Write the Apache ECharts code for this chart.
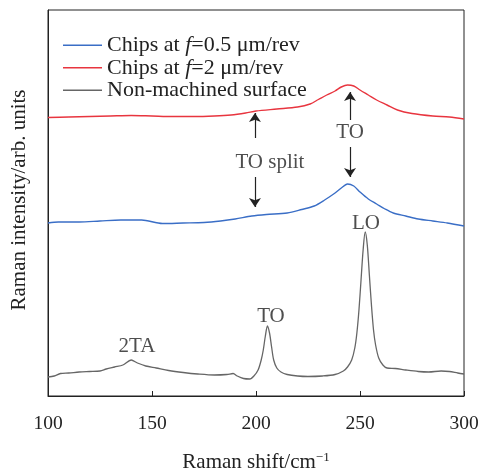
<!DOCTYPE html>
<html>
<head>
<meta charset="utf-8">
<script src="https://cdn.jsdelivr.net/npm/echarts@6/dist/echarts.min.js"></script>
<style>
  html, body { margin: 0; padding: 0; background: #fff; }
  #chart { width: 482px; height: 471px; }
</style>
</head>
<body>
<div id="chart"></div>
<script>
// Raman spectra (intensity in arb. units)
var grayX = [100, 103, 106, 110, 115, 120, 125, 128, 132, 136, 140, 143, 147, 152, 158, 165, 172, 180, 186, 189, 191, 194, 197, 199, 201, 202.5, 203.5, 204.5, 205.5, 206.5, 207.5, 208.5, 210, 212, 215, 220, 225, 232, 238, 242, 244, 246, 247.5, 248.5, 249.5, 250.5, 251.5, 252.5, 253.5, 254.5, 255.5, 256.5, 257.5, 259, 261, 263, 267, 272, 278, 283, 289, 293, 297, 300];
var grayY = [19, 20, 22.5, 23, 24, 24.5, 25, 27, 29, 31, 36, 33, 30, 28, 25.5, 23.5, 22, 21, 21.5, 22.5, 20, 17.5, 17, 20, 26, 36, 46, 60, 70, 63, 49, 36, 28, 24, 21.5, 20, 19.5, 20, 21.5, 25, 29, 36, 48, 63, 86, 116, 146, 164, 151, 121, 91, 66, 51, 38, 31, 28, 27.5, 26, 24.5, 24, 25, 24.5, 23, 22];

var blueX = [100, 105, 115, 125, 135, 145, 155, 165, 175, 183, 190, 198, 205, 215, 222, 228, 233, 238, 241, 244, 247, 250, 254, 258, 262, 266, 272, 278, 285, 292, 300];
var blueY = [173, 174, 174, 175, 176, 176, 172.5, 173, 173.5, 175, 177, 180, 181.5, 183, 186.5, 190, 196, 203, 208, 212, 210, 204, 197, 192, 187, 183, 180, 177, 175, 173, 170];

var redX = [100, 110, 120, 130, 140, 150, 160, 170, 180, 188, 195, 200, 210, 220, 226, 230, 234, 238, 241, 244, 247, 250, 254, 258, 263, 268, 275, 285, 293, 300];
var redY = [278.5, 279, 279.5, 280, 280.5, 280, 279.5, 279.5, 280, 281, 283, 285, 287, 289, 292, 296.5, 301, 305, 309, 311, 310, 306, 301, 296, 291, 286, 282.5, 280, 279, 277];

var xTicks = [100, 150, 200, 250, 300];

// peak labels: [x, y, text]
var peakLabels = [
  [142.8, 50, '2TA'],
  [207.2, 80, 'TO'],
  [252.9, 173, 'LO'],
  [206.7, 234, 'TO split'],
  [245.2, 264, 'TO']
];
// arrows: [x, yFrom, yTo]
var arrows = [
  [199.5, 258, 283],
  [199.5, 219, 189],
  [245.2, 276, 304],
  [245.2, 249, 219]
];

function zip(xs, ys) {
  return xs.map(function (x, i) { return [x, ys[i]]; });
}

var serif = '"Liberation Serif", "Times New Roman", serif';
var ink = '#222';

var chart = echarts.init(document.getElementById('chart'));

var option = {
  animation: false,
  grid: {
    left: 48, right: 18, top: 10, bottom: 75,
    outerBoundsMode: 'none',
    show: true, borderColor: ink, borderWidth: 1
  },
  legend: {
    orient: 'vertical',
    left: 63, top: 34,
    itemWidth: 39, itemHeight: 1.5, itemGap: 0, padding: 0,
    data: ['blue', 'red', 'gray'],
    icon: 'rect',
    formatter: function (name) {
      if (name === 'blue') return 'Chips at {i|f}=0.5 μm/rev';
      if (name === 'red') return 'Chips at {i|f}=2 μm/rev';
      return 'Non-machined surface';
    },
    textStyle: {
      fontFamily: serif, fontSize: 22, color: ink, lineHeight: 22.5,
      rich: { i: { fontFamily: serif, fontSize: 22, fontStyle: 'italic', color: ink, lineHeight: 22.5 } }
    }
  },
  xAxis: {
    type: 'value', min: 100, max: 300, interval: 50,
    name: 'Raman shift/cm{sup|−1}',
    nameLocation: 'middle', nameGap: 55,
    nameTextStyle: {
      fontFamily: serif, fontSize: 21, color: ink,
      rich: { sup: { fontFamily: serif, fontSize: 13, color: ink, padding: [0, 0, 10, 0] } }
    },
    axisLine: { show: true, lineStyle: { color: ink } },
    axisTick: { show: true, inside: true, length: 5, lineStyle: { color: ink } },
    axisLabel: {
      fontFamily: serif, fontSize: 19.5, color: ink, margin: 18,
      customValues: xTicks
    },
    splitLine: { show: false }
  },
  yAxis: {
    type: 'value', min: 0, max: 386,
    name: 'Raman intensity/arb. units',
    nameLocation: 'middle', nameGap: 18,
    nameTextStyle: { fontFamily: serif, fontSize: 21, color: ink, padding: [0, 0, 0, 6] },
    axisLine: { show: true, lineStyle: { color: ink } },
    axisTick: { show: false },
    axisLabel: { show: false },
    splitLine: { show: false }
  },
  series: [
    {
      name: 'blue', type: 'line', data: zip(blueX, blueY),
      smooth: 0.3, symbol: 'none',
      lineStyle: { color: '#3a6ec6', width: 1.4 }, itemStyle: { color: '#3a6ec6' }
    },
    {
      name: 'red', type: 'line', data: zip(redX, redY),
      smooth: 0.3, symbol: 'none',
      lineStyle: { color: '#e8353f', width: 1.4 }, itemStyle: { color: '#e8353f' }
    },
    {
      name: 'gray', type: 'line', data: zip(grayX, grayY),
      smooth: 0.3, symbol: 'none',
      lineStyle: { color: '#666', width: 1.3 }, itemStyle: { color: '#666' },
      markLine: {
        silent: true, symbol: ['none', 'arrow'], symbolSize: 9,
        lineStyle: { color: ink, width: 1.2, type: 'solid' },
        label: { show: false },
        data: arrows.map(function (a) {
          return [{ coord: [a[0], a[1]] }, { coord: [a[0], a[2]] }];
        })
      }
    },
    {
      name: 'labels', type: 'scatter', symbolSize: 0, silent: true,
      data: peakLabels.map(function (p) { return { value: [p[0], p[1]], name: p[2] }; }),
      label: {
        show: true, position: 'inside', formatter: '{b}',
        fontFamily: serif, fontSize: 21, color: ink
      }
    }
  ]
};

chart.setOption(option);
</script>
</body>
</html>
